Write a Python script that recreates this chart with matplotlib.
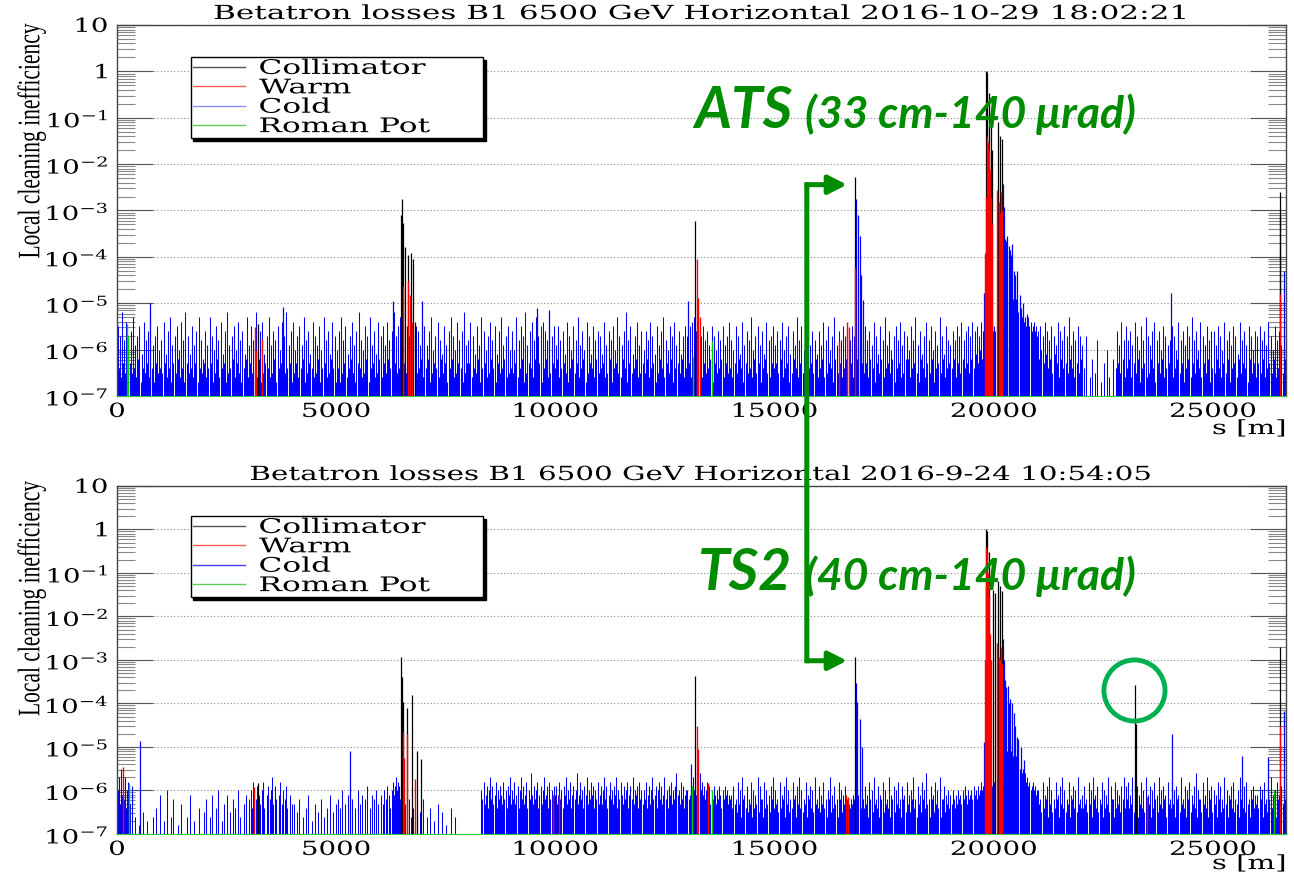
import numpy as np
import matplotlib
matplotlib.use('Agg')
import matplotlib.pyplot as plt
from matplotlib.lines import Line2D
from matplotlib.patches import ConnectionPatch
from matplotlib.patheffects import AbstractPathEffect
from matplotlib.ticker import LogLocator, NullFormatter
from matplotlib.transforms import Affine2D

plt.rcParams['mathtext.fontset'] = 'dejavuserif'
plt.rcParams['font.family'] = ['DejaVu Serif']

RING = 26659.0     # s range [m]
BIN = 25.0         # width of one background cold-loss bin [m]

# background losses in the cold aperture, one value per 25 m bin (one row per km),
# stored as -10*log10(loss); 0 = nothing recorded
cold_bg_ats = [
    55, 64, 57, 66, 52, 63, 58, 65, 54, 67, 60, 63, 56, 65, 53, 64, 59, 66, 57, 62, 55, 67, 61, 64, 54, 65, 58, 63, 56, 66, 52, 64, 59, 67, 57, 63, 55, 65, 60, 64,
    58, 65, 54, 63, 61, 66, 56, 64, 53, 67, 59, 63, 57, 65, 55, 62, 60, 66, 54, 64, 58, 67, 52, 63, 57, 65, 61, 64, 55, 66, 59, 63, 56, 67, 53, 64, 58, 65, 62, 63,
    56, 66, 59, 64, 53, 63, 57, 67, 60, 65, 55, 62, 58, 66, 54, 64, 61, 63, 56, 67, 52, 65, 59, 64, 57, 62, 55, 66, 60, 63, 54, 65, 58, 67, 56, 64, 61, 62, 53, 66,
    59, 63, 55, 65, 58, 64, 52, 66, 60, 62, 56, 67, 54, 65, 61, 63, 57, 64, 53, 66, 59, 65, 56, 62, 58, 67, 55, 64, 60, 63, 54, 66, 57, 65, 52, 64, 59, 63, 56, 67,
    54, 65, 60, 63, 57, 66, 55, 64, 59, 62, 53, 67, 58, 65, 56, 63, 61, 64, 54, 66, 57, 65, 59, 62, 55, 67, 60, 64, 53, 63, 58, 66, 56, 65, 61, 62, 54, 64, 57, 67,
    60, 64, 56, 67, 53, 65, 58, 63, 55, 66, 61, 64, 57, 62, 54, 65, 59, 67, 56, 63, 52, 64, 58, 66, 60, 65, 55, 62, 57, 67, 53, 64, 59, 63, 56, 66, 61, 65, 54, 62,
    57, 66, 55, 63, 59, 65, 54, 62, 58, 64, 56, 67, 52, 63, 57, 65, 55, 64, 53, 66, 56, 63, 54, 65, 55, 62, 57, 64, 53, 66, 58, 63, 55, 65, 56, 64, 59, 62, 57, 66,
    55, 64, 59, 62, 56, 67, 53, 65, 60, 63, 57, 64, 54, 66, 58, 62, 61, 65, 55, 63, 59, 67, 56, 64, 53, 62, 57, 66, 60, 65, 54, 63, 58, 64, 56, 67, 52, 65, 59, 63,
    58, 63, 54, 66, 57, 64, 61, 65, 55, 62, 59, 67, 53, 64, 56, 63, 60, 66, 57, 65, 54, 62, 58, 64, 55, 67, 61, 63, 56, 65, 53, 64, 59, 62, 57, 66, 55, 65, 60, 64,
    56, 65, 60, 63, 53, 66, 58, 64, 55, 62, 57, 67, 52, 65, 59, 63, 56, 64, 54, 66, 58, 62, 53, 65, 57, 63, 55, 67, 54, 64, 56, 62, 58, 66, 53, 65, 57, 63, 55, 64,
    59, 62, 55, 66, 58, 64, 56, 63, 61, 65, 54, 67, 57, 64, 60, 62, 55, 65, 58, 63, 53, 66, 59, 64, 56, 62, 60, 67, 54, 65, 57, 63, 61, 64, 55, 66, 58, 62, 56, 65,
    57, 64, 61, 63, 54, 66, 59, 65, 56, 62, 58, 67, 55, 64, 60, 63, 53, 65, 57, 66, 59, 62, 56, 64, 52, 67, 58, 63, 55, 65, 61, 64, 57, 62, 54, 66, 59, 65, 56, 63,
    60, 65, 56, 62, 58, 66, 54, 64, 57, 63, 61, 67, 55, 65, 59, 62, 56, 64, 53, 66, 58, 63, 60, 65, 55, 62, 57, 67, 54, 64, 59, 63, 56, 65, 61, 62, 57, 66, 55, 64,
    57, 63, 55, 66, 54, 64, 53, 65, 56, 62, 52, 64, 57, 66, 55, 63, 58, 65, 56, 64, 59, 62, 55, 67, 57, 63, 60, 65, 56, 64, 58, 62, 55, 66, 59, 63, 57, 65, 54, 64,
    58, 66, 60, 63, 55, 65, 57, 62, 61, 64, 54, 67, 59, 63, 56, 65, 58, 64, 53, 66, 60, 62, 57, 65, 55, 63, 59, 67, 56, 64, 61, 62, 54, 65, 58, 66, 57, 63, 55, 64,
    59, 63, 56, 65, 58, 62, 54, 66, 60, 64, 57, 63, 55, 67, 61, 65, 56, 62, 59, 64, 53, 66, 58, 63, 55, 65, 60, 62, 57, 67, 54, 64, 59, 63, 56, 65, 58, 62, 61, 66,
    56, 64, 59, 62, 54, 66, 58, 65, 55, 63, 60, 64, 57, 67, 53, 62, 59, 65, 56, 63, 58, 66, 55, 64, 57, 62, 56, 65, 58, 63, 55, 66, 57, 64, 56, 62, 59, 65, 58, 63,
    60, 65, 55, 63, 58, 66, 56, 62, 59, 64, 54, 67, 57, 63, 61, 65, 55, 62, 58, 66, 53, 64, 59, 63, 56, 65, 60, 62, 57, 67, 55, 64, 58, 63, 54, 66, 59, 65, 56, 62,
    57, 62, 60, 66, 55, 64, 58, 63, 53, 65, 59, 67, 56, 62, 61, 64, 57, 66, 54, 63, 58, 65, 55, 62, 60, 67, 56, 64, 59, 63, 53, 65, 57, 62, 61, 66, 55, 64, 58, 63,
    59, 64, 56, 62, 58, 66, 55, 63, 57, 65, 54, 62, 58, 64, 56, 63, 55, 65, 57, 62, 54, 64, 56, 61, 55, 63, 57, 60, 54, 62, 56, 60, 55, 59, 54, 58, 55, 57, 54, 56,
    55, 56, 54, 55, 53, 55, 50, 49, 48, 50, 49, 48, 50, 49, 51, 48, 50, 49, 51, 50, 49, 51, 52, 50, 51, 53, 52, 54, 53, 55, 54, 53, 55, 54, 56, 55, 54, 56, 55, 57,
    56, 62, 55, 60, 57, 63, 54, 61, 56, 64, 58, 62, 55, 65, 57, 61, 59, 63, 54, 66, 56, 62, 58, 64, 55, 63, 57, 65, 53, 62, 59, 64, 56, 66, 58, 63, 55, 65, 57, 62,
    59, 0, 64, 0, 57, 0, 0, 66, 0, 62, 0, 0, 65, 0, 58, 0, 0, 67, 0, 0, 63, 0, 0, 60, 0, 66, 0, 0, 62, 0, 0, 64, 56, 63, 59, 65, 54, 62, 58, 66,
    55, 64, 58, 62, 56, 66, 59, 63, 54, 65, 57, 62, 60, 67, 55, 64, 58, 63, 53, 66, 57, 65, 59, 62, 56, 64, 54, 67, 58, 63, 56, 65, 60, 62, 55, 66, 57, 64, 59, 63,
    58, 63, 55, 66, 57, 64, 60, 62, 54, 65, 58, 63, 56, 67, 59, 64, 55, 62, 57, 66, 53, 63, 58, 65, 56, 62, 60, 64, 54, 66, 57, 63, 59, 65, 55, 62, 58, 67, 56, 64,
    56, 65, 59, 62, 55, 64, 57, 66, 60, 63, 54, 65, 58, 62, 56, 67, 59, 64, 55, 63, 57, 66, 61, 62, 54, 65, 58, 63, 56, 64, 59, 67, 55, 62, 57, 65, 60, 63, 56, 66,
    57, 63, 55, 65, 58, 62, 56, 66, 59, 64, 54, 63, 57, 65, 60, 62, 55, 66, 58, 64, 56, 63, 59, 65, 54, 62, 57,
]

cold_bg_ts2 = [
    60, 57, 63, 55, 61, 58, 62, 57, 64, 60, 58, 63, 0, 59, 0, 0, 66, 0, 0, 0, 68, 0, 0, 65, 0, 0, 0, 67, 0, 0, 0, 0, 66, 0, 0, 64, 0, 0, 0, 61,
    0, 0, 67, 0, 0, 60, 0, 0, 0, 66, 0, 62, 0, 0, 0, 68, 0, 0, 63, 0, 0, 0, 0, 66, 0, 0, 61, 0, 0, 0, 67, 0, 0, 0, 64, 0, 0, 0, 0, 65,
    0, 62, 0, 0, 66, 0, 61, 0, 0, 0, 64, 0, 60, 0, 0, 67, 0, 63, 0, 0, 61, 0, 0, 65, 0, 62, 0, 64, 0, 0, 60, 0, 66, 0, 0, 63, 0, 61, 0, 0,
    62, 0, 60, 64, 58, 0, 62, 59, 0, 61, 63, 0, 60, 58, 64, 0, 61, 59, 0, 62, 60, 57, 63, 0, 59, 62, 0, 61, 58, 0, 63, 60, 0, 62, 59, 64, 0, 61, 0, 63,
    0, 63, 0, 0, 65, 0, 62, 0, 0, 66, 0, 0, 64, 0, 61, 0, 0, 67, 0, 0, 63, 0, 0, 65, 0, 0, 62, 0, 66, 0, 0, 64, 0, 0, 61, 0, 0, 65, 0, 63,
    0, 62, 0, 64, 0, 60, 0, 0, 63, 0, 61, 0, 59, 0, 62, 0, 0, 64, 0, 60, 0, 63, 0, 61, 0, 0, 62, 0, 59, 0, 64, 0, 61, 0, 62, 0, 60, 0, 63, 0,
    61, 0, 63, 60, 0, 62, 59, 0, 61, 64, 60, 58, 61, 59, 57, 60, 58, 59, 62, 58, 61, 0, 63, 0, 65, 0, 62, 0, 66, 0, 64, 0, 0, 63, 0, 0, 65, 0, 0, 62,
    0, 0, 66, 0, 0, 64, 0, 0, 0, 67, 0, 0, 63, 0, 0, 0, 65, 0, 0, 0, 68, 0, 0, 0, 64, 0, 0, 0, 66, 0, 0, 0, 0, 0, 0, 0, 0, 0, 0, 0,
    0, 0, 0, 0, 0, 0, 0, 0, 0, 0, 0, 0, 60, 62, 58, 63, 61, 59, 64, 60, 57, 62, 59, 63, 61, 58, 64, 60, 62, 59, 61, 63, 58, 62, 60, 64, 59, 61, 57, 63,
    60, 62, 58, 63, 61, 59, 64, 60, 57, 62, 59, 63, 61, 58, 64, 60, 62, 56, 61, 63, 59, 62, 60, 58, 64, 61, 59, 63, 60, 57, 62, 61, 59, 64, 58, 62, 60, 63, 59, 61,
    59, 63, 61, 58, 62, 60, 64, 59, 61, 57, 63, 60, 62, 58, 64, 61, 59, 62, 60, 56, 63, 61, 58, 62, 60, 64, 59, 61, 57, 63, 60, 62, 58, 61, 59, 64, 60, 62, 58, 63,
    61, 59, 63, 60, 57, 62, 59, 64, 61, 58, 62, 60, 63, 59, 61, 57, 64, 60, 62, 58, 61, 63, 59, 62, 60, 58, 64, 61, 59, 62, 57, 63, 60, 61, 59, 64, 58, 62, 60, 63,
    60, 62, 58, 64, 61, 59, 63, 60, 57, 62, 61, 59, 64, 60, 58, 62, 59, 63, 61, 57, 62, 60, 64, 59, 61, 58, 63, 60, 62, 59, 56, 61, 60, 63, 58, 62, 59, 64, 61, 60,
    60, 62, 61, 58, 59, 57, 60, 58, 61, 57, 59, 56, 60, 58, 61, 59, 62, 60, 58, 61, 59, 63, 60, 62, 59, 61, 63, 60, 62, 59, 61, 64, 60, 62, 59, 61, 60, 63, 61, 62,
    61, 64, 59, 63, 62, 65, 58, 63, 60, 66, 57, 62, 61, 64, 59, 65, 62, 63, 58, 66, 60, 64, 61, 63, 57, 65, 59, 62, 62, 66, 58, 64, 60, 63, 61, 65, 59, 62, 57, 64,
    60, 63, 62, 65, 58, 64, 61, 62, 59, 66, 57, 63, 60, 65, 62, 64, 58, 62, 61, 66, 59, 63, 57, 64, 60, 65, 62, 63, 58, 66, 61, 62, 59, 64, 60, 65, 57, 63, 62, 64,
    59, 65, 61, 63, 58, 64, 62, 66, 60, 62, 57, 65, 61, 64, 59, 63, 62, 66, 58, 62, 60, 65, 61, 63, 59, 64, 62, 63, 64, 62, 63, 61, 62, 60, 63, 62, 61, 63, 64, 62,
    62, 64, 59, 63, 61, 66, 58, 62, 60, 65, 57, 63, 62, 64, 59, 66, 61, 62, 58, 65, 60, 63, 62, 64, 57, 66, 61, 62, 59, 65, 60, 63, 58, 64, 62, 66, 59, 62, 61, 65,
    58, 63, 61, 65, 60, 62, 57, 64, 62, 66, 59, 63, 61, 65, 58, 62, 60, 64, 56, 63, 62, 66, 59, 62, 61, 65, 58, 63, 60, 64, 57, 66, 62, 62, 59, 65, 61, 63, 60, 64,
    61, 63, 60, 62, 64, 61, 63, 60, 62, 61, 63, 60, 62, 59, 61, 63, 60, 62, 61, 60, 62, 59, 61, 60, 62, 59, 61, 60, 58, 60, 59, 61, 60, 58, 60, 59, 58, 60, 59, 58,
    58, 57, 58, 56, 57, 58, 52, 51, 50, 51, 50, 52, 51, 50, 52, 51, 53, 52, 51, 53, 52, 54, 53, 55, 54, 56, 55, 57, 56, 58, 57, 59, 58, 60, 59, 58, 60, 59, 61, 60,
    60, 63, 62, 65, 58, 64, 61, 62, 59, 66, 57, 63, 60, 65, 62, 64, 58, 62, 61, 66, 59, 63, 57, 64, 60, 65, 62, 63, 58, 66, 61, 62, 59, 64, 60, 65, 57, 63, 62, 64,
    61, 64, 59, 63, 62, 65, 58, 63, 60, 66, 57, 62, 61, 64, 59, 65, 62, 63, 58, 66, 60, 64, 61, 63, 57, 65, 59, 62, 62, 66, 58, 64, 60, 63, 61, 65, 59, 62, 57, 64,
    59, 62, 58, 64, 61, 63, 57, 65, 60, 62, 59, 66, 61, 63, 58, 64, 60, 65, 57, 62, 61, 63, 59, 66, 60, 64, 58, 62, 61, 65, 57, 63, 60, 64, 59, 62, 61, 66, 58, 63,
    62, 64, 58, 63, 60, 66, 59, 62, 61, 65, 57, 63, 62, 64, 59, 66, 60, 62, 58, 65, 61, 63, 59, 64, 56, 66, 60, 62, 62, 65, 58, 63, 61, 64, 57, 66, 60, 62, 59, 65,
    60, 63, 61, 66, 58, 62, 59, 65, 62, 64, 57, 63, 60, 66, 61, 62, 59, 64, 58, 65, 62, 63, 60, 66, 57, 62, 61, 64, 59, 65, 58, 63, 62, 66, 60, 62, 59, 64, 61, 63,
    61, 64, 59, 62, 60, 66, 58, 63, 62, 65, 59, 62, 57, 64, 61, 63, 60, 66, 58, 62, 61, 65, 59, 63, 60, 62, 58,
]

# ---- 2016-10-29, ATS optics: individual loss locations ----
coll_s_ats = [3216, 6480, 6500, 6520, 6570, 6640, 6710, 6750, 6800, 13184, 16834,
              19822, 19845, 19890, 19930, 19955, 20100, 20140, 20180, 26520, 26528]
coll_v_ats = [3.5e-6, 8e-4, 1.8e-3, 5.5e-4, 1.6e-4, 1.1e-4, 1.2e-4, 9e-5, 4e-6, 6e-4, 5.2e-3,
              1.0, 0.95, 0.35, 0.08, 0.02, 0.08, 0.04, 0.035, 7.6e-4, 2.5e-3]
warm_s_ats = [3148, 3170, 3307, 6520, 6640, 6680, 6730, 13230, 13253, 13300, 16469, 16651, 16690, 16840,
              19800, 19815, 19835, 19860, 19880, 19905, 19930, 19950,
              20080, 20110, 20140, 20170, 20195, 26528]
warm_v_ats = [3e-6, 1e-6, 1.7e-6, 2.3e-5, 3e-5, 1.5e-5, 4e-6, 9e-5, 1.3e-5, 5e-6, 1.5e-6, 4e-6, 3e-6, 6e-5,
              1.2e-4, 2e-3, 0.04, 0.03, 0.02, 8e-3, 2e-3, 5e-4,
              2.8e-3, 1.5e-3, 9e-4, 2.5e-3, 1e-3, 1.6e-5]
cold_s_ats = [753, 3786, 6300, 6957, 9580, 9855, 13025, 16860, 16900, 16950, 16980, 17020,
              19780, 20200, 20225, 20250, 20280, 20310, 20340, 20370, 20400, 20420, 20450,
              20490, 20530, 20590, 20660, 20760, 24042, 26620]
cold_v_ats = [1e-5, 8.3e-6, 1.1e-5, 1.1e-5, 8e-6, 7e-6, 1.1e-5, 1.8e-3, 8e-4, 2.8e-4, 4e-5, 1.2e-5,
              1.7e-5, 3.7e-3, 1.2e-3, 2.4e-4, 2.2e-4, 2.8e-4, 1.7e-4, 1.4e-4, 1.1e-4, 1.9e-4, 5e-5,
              4e-5, 5e-5, 1.5e-5, 1e-5, 6e-6, 1.7e-5, 5e-5]
rp_s_ats = [228, 250, 13139, 13572]
rp_v_ats = [3.5e-6, 2e-6, 7e-7, 1.5e-6]

# ---- 2016-09-24, TS2 optics ----
coll_s_ts2 = [3216, 6485, 6500, 6524, 6615, 6722, 6836, 6930, 13184, 16834,
              19822, 19845, 19900, 19990, 20030, 20100, 20140, 20180, 23220, 23240, 26528]
coll_v_ts2 = [1.5e-6, 1.2e-3, 4e-4, 1.1e-4, 8e-5, 1.6e-4, 8e-6, 5.2e-6, 4.3e-4, 1.2e-3,
              1.0, 0.9, 0.3, 0.04, 0.035, 0.066, 0.05, 0.039, 2.7e-4, 3.4e-5, 2e-3]
warm_s_ts2 = [140, 3122, 6524, 6540, 6615, 6807, 9945, 10080, 13230, 13260, 13480, 16630, 16675,
              19800, 19815, 19830, 19850, 19870, 19890, 19910, 19940,
              20080, 20110, 20140, 20170, 20195, 23506, 26528]
warm_v_ts2 = [3.5e-6, 1.2e-6, 2.2e-5, 5.6e-6, 2e-5, 1.8e-6, 8e-7, 8e-7, 3e-5, 9e-6, 1.5e-6, 8e-7, 7e-7,
              1e-3, 0.05, 0.4, 0.3, 0.1, 0.03, 4e-3, 1e-3,
              2.5e-3, 1.2e-3, 1e-3, 2e-3, 8e-4, 7e-7, 3e-5]
cold_s_ts2 = [528, 5320, 13100, 16850, 16870, 16950, 17000,
              19780, 20200, 20230, 20260, 20290, 20320, 20350, 20380, 20420, 20450,
              20490, 20530, 20560, 20620, 20700, 24057, 25655, 26246, 26620]
cold_v_ts2 = [1.4e-5, 8e-6, 4e-6, 3e-4, 1.1e-4, 4.4e-5, 1e-5,
              1.3e-5, 3e-3, 1e-3, 3.4e-4, 2.4e-4, 2.5e-4, 1e-4, 1.3e-4, 1e-4, 6e-5,
              3e-5, 1.7e-5, 1.5e-5, 1e-5, 5e-6, 2e-5, 6.3e-6, 5.9e-6, 6.8e-5]
rp_s_ts2 = [263, 13116, 13565, 26400]
rp_v_ts2 = [1.5e-6, 1.3e-6, 1e-6, 1e-6]

title_ats = 'Betatron losses B1 6500 GeV Horizontal 2016-10-29 18:02:21'
title_ts2 = 'Betatron losses B1 6500 GeV Horizontal 2016-9-24 10:54:05'
legend_labels = ['Collimator', 'Warm', 'Cold', 'Roman Pot']
x_ticks = [0, 5000, 10000, 15000, 20000, 25000]
decades = [1e-7, 1e-6, 1e-5, 1e-4, 1e-3, 1e-2, 1e-1, 1, 10]
decade_labels = [r'$10^{-7}$', r'$10^{-6}$', r'$10^{-5}$', r'$10^{-4}$', r'$10^{-3}$',
                 r'$10^{-2}$', r'$10^{-1}$', r'$1$', r'$10$']

GREEN = '#008c00'


class Widen(AbstractPathEffect):
    """Stretch the glyphs horizontally about the left, centre or right of the text."""

    def __init__(self, sx, anchor='center'):
        super().__init__()
        self.sx = sx
        self.anchor = anchor

    def draw_path(self, renderer, gc, tpath, affine, rgbFace=None):
        ext = tpath.get_extents(affine)
        x0 = {'left': ext.x0, 'center': 0.5 * (ext.x0 + ext.x1), 'right': ext.x1}[self.anchor]
        widen = Affine2D().translate(-x0, 0).scale(self.sx, 1).translate(x0, 0)
        renderer.draw_path(gc, tpath, affine + widen, rgbFace)


def background(codes):
    d = np.asarray(codes, dtype=float)
    s = (np.arange(d.size) + 0.5) * BIN
    keep = d > 0
    return s[keep], 10 ** (-d[keep] / 10.0)


def loss_panel(ax, bg, coll, warm, cold, rp, cold_key):
    ax.set_yscale('log')
    s_bg, v_bg = background(bg)
    ax.vlines(s_bg, 1e-7, v_bg, color='#0000ff', lw=0.75, zorder=2)
    ax.vlines(cold[0], 1e-7, cold[1], color='#0000ff', lw=0.9, zorder=2)
    ax.vlines(coll[0], 1e-7, coll[1], color='black', lw=0.9, zorder=3)
    ax.vlines(warm[0], 1e-7, warm[1], color='#ff0000', lw=1.0, zorder=4)
    ax.vlines(rp[0], 1e-7, rp[1], color='#00cc00', lw=1.0, zorder=5)

    ax.set_xlim(0, RING)
    ax.set_ylim(1e-7, 10)
    ax.set_xticks(x_ticks, [str(t) for t in x_ticks])
    ax.set_yticks(decades, decade_labels)
    ax.yaxis.set_minor_locator(LogLocator(base=10, subs=np.arange(2, 10) * 1.0, numticks=30))
    ax.yaxis.set_minor_formatter(NullFormatter())
    ax.tick_params(axis='x', length=0, pad=5, labelsize=14)
    ax.tick_params(axis='y', which='major', direction='in', length=26, width=0.8,
                   color='#555555', left=True, right=True, labelsize=14, pad=6)
    ax.tick_params(axis='y', which='minor', direction='in', length=13, width=0.8,
                   color='#888888', left=True, right=True)
    ax.set_axisbelow(True)
    ax.yaxis.grid(True, which='major', ls=(0, (1, 2)), color='#888888', lw=0.8)
    for side in ['top', 'right', 'left']:
        ax.spines[side].set_color('#444444')
        ax.spines[side].set_linewidth(1.0)
    ax.spines['bottom'].set_color('#33cc33')

    for lab in ax.get_xticklabels():
        lab.set_path_effects([Widen(1.42, 'center')])
    for lab in ax.get_yticklabels():
        lab.set_path_effects([Widen(1.42, 'right')])

    handles = [Line2D([], [], color='#555555', lw=1),
               Line2D([], [], color='#ff5a5a', lw=1),
               Line2D([], [], color=cold_key, lw=1),
               Line2D([], [], color='#5ad25a', lw=1)]
    leg = ax.legend(handles, legend_labels, loc='upper left',
                    bbox_to_anchor=(0.063, 0.70, 0.250, 0.214), mode='expand',
                    fontsize=14.5, labelspacing=0.02, borderpad=0.1,
                    handlelength=2.6, handletextpad=0.7, borderaxespad=0,
                    fancybox=False, framealpha=1, edgecolor='black',
                    shadow={'color': 'black', 'alpha': 1.0})
    leg.get_frame().set_linewidth(1.0)
    leg.set_zorder(10)
    for t in leg.get_texts():
        t.set_path_effects([Widen(1.55, 'left')])
    return ax


fig = plt.figure(figsize=(12.94, 8.79), dpi=100)
ax1 = fig.add_axes([0.0904, 0.5484, 0.9032, 0.4220])
ax2 = fig.add_axes([0.0904, 0.0501, 0.9032, 0.3959])

loss_panel(ax1, cold_bg_ats, (coll_s_ats, coll_v_ats), (warm_s_ats, warm_v_ats),
           (cold_s_ats, cold_v_ats), (rp_s_ats, rp_v_ats), '#8c8cff')
loss_panel(ax2, cold_bg_ts2, (coll_s_ts2, coll_v_ts2), (warm_s_ts2, warm_v_ts2),
           (cold_s_ts2, cold_v_ts2), (rp_s_ts2, rp_v_ts2), '#3c3cff')

# titles, axis labels
for y, title, sx in [(0.9772, title_ats, 1.60), (0.4528, title_ts2, 1.51)]:
    fig.text(0.5421, y, title, ha='center', va='baseline', fontsize=14,
             path_effects=[Widen(sx, 'center')])
for y in [0.8385, 0.318]:
    fig.text(0.0247, y, 'Local cleaning inefficiency', rotation=90, ha='center', va='center',
             fontsize=15.5, family='Liberation Serif', path_effects=[Widen(1.45, 'center')])
for y in [0.5108, 0.0159]:
    fig.text(0.9938, y, 's [m]', ha='right', va='center', fontsize=14,
             path_effects=[Widen(1.5, 'right')])

# optics labels
big = dict(color=GREEN, family='Lato', weight='bold', style='italic')
fig.text(694 / 1294, 1 - 128 / 879, 'ATS', fontsize=41, va='baseline', **big)
fig.text(805 / 1294, 1 - 128 / 879, '(33 cm-140 \u03bcrad)', fontsize=32, va='baseline', **big)
fig.text(698 / 1294, 1 - 590 / 879, 'TS2', fontsize=41, va='baseline', **big)
fig.text(805 / 1294, 1 - 590 / 879, '(40 cm-140 \u03bcrad)', fontsize=32, va='baseline', **big)

# bracket arrow pointing at the IR6 peak in both panels
arrow_s, tip_s = 15735, 16651
top_y, bot_y = 3.6e-3, 9.6e-4
con = ConnectionPatch(xyA=(arrow_s, top_y), coordsA=ax1.transData,
                      xyB=(arrow_s, bot_y), coordsB=ax2.transData,
                      color=GREEN, lw=3.6, capstyle='projecting', zorder=8)
fig.add_artist(con)
for ax, y in [(ax1, top_y), (ax2, bot_y)]:
    ax.annotate('', xy=(tip_s, y), xytext=(arrow_s, y), annotation_clip=False,
                arrowprops=dict(arrowstyle='-|>,head_length=0.55,head_width=0.28',
                                mutation_scale=20, color=GREEN, lw=3.6,
                                shrinkA=0, shrinkB=0), zorder=8)

# ring around the new loss location in the TS2 map
ax2.plot([23200], [2.06e-4], marker='o', ms=44, mfc='none', mec='#00b050', mew=3.5,
         clip_on=False, zorder=9)

fig.savefig('out.png', dpi=100)
